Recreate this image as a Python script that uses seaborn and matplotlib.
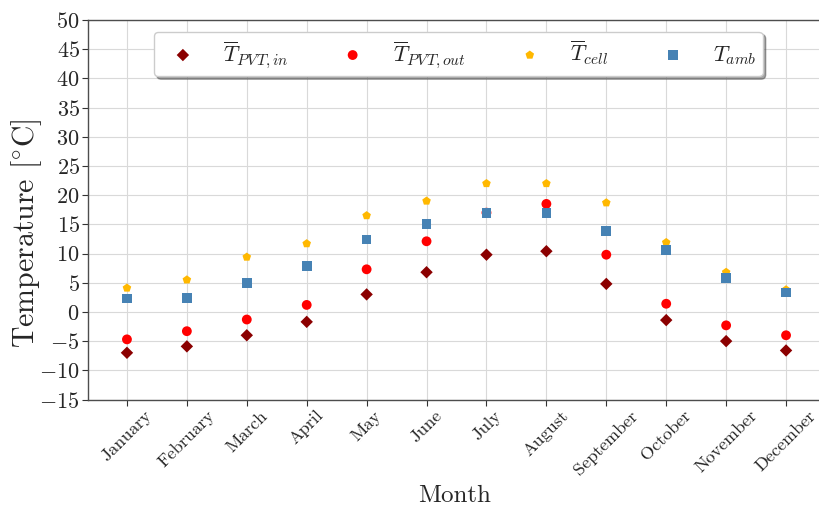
import matplotlib
matplotlib.use("Agg")
import matplotlib.pyplot as plt
import seaborn as sns
import pandas as pd

months = ["January", "February", "March", "April", "May", "June", "July",
          "August", "September", "October", "November", "December"]
t_pvt_in = [-7.0, -5.9, -4.0, -1.7, 3.0, 6.8, 9.8, 10.4, 4.8, -1.4, -5.0, -6.6]
t_pvt_out = [-4.7, -3.3, -1.3, 1.2, 7.3, 12.1, 17.0, 18.5, 9.8, 1.4, -2.3, -4.0]
t_cell = [4.1, 5.5, 9.4, 11.7, 16.5, 19.0, 22.0, 22.0, 18.7, 11.9, 6.8, 3.8]
t_amb = [2.3, 2.4, 5.0, 7.9, 12.4, 15.1, 16.9, 16.9, 13.9, 10.6, 5.8, 3.3]

y_ticks = list(range(-15, 55, 5))

sns.set_theme(style="whitegrid")
plt.rcParams.update({
    "font.family": ["cmr10"],
    "mathtext.fontset": "cm",
    "axes.formatter.use_mathtext": True,
    "axes.unicode_minus": True,
})

df = pd.DataFrame({"month": months, "in": t_pvt_in, "out": t_pvt_out,
                   "cell": t_cell, "amb": t_amb})

fig = plt.figure(figsize=(8.19, 5.11), dpi=100)
ax = fig.add_axes([88 / 819, 1 - 399.5 / 511, (825 - 88) / 819, (399.5 - 20) / 511])

series = [
    ("in", r"$\overline{T}_{PVT,in}$", "D", "#8b0000", 40),
    ("out", r"$\overline{T}_{PVT,out}$", "o", "#ff0000", 50),
    ("cell", r"$\overline{T}_{cell}$", "p", "#ffb800", 42),
    ("amb", r"$T_{amb}$", "s", "#4682b4", 48),
]
for col, lab, mk, colr, size in series:
    sns.scatterplot(data=df, x="month", y=col, marker=mk, color=colr, s=size,
                    edgecolor="none", label=lab, ax=ax, zorder=3)

ax.set_xlim(-0.65, 11.65)
ax.set_ylim(-15, 50)
ax.set_yticks(y_ticks)
ax.tick_params(axis="y", labelsize=16, length=4, width=0.8, color="0.2",
               left=True, pad=2)
ax.tick_params(axis="x", labelsize=13, length=4, width=0.8, color="0.2",
               bottom=True, pad=2)
for lbl in ax.get_xticklabels():
    lbl.set_rotation(45)

ax.grid(True, color="0.85", linewidth=0.8)
for side in ["left", "bottom", "top", "right"]:
    ax.spines[side].set_color("0.3")
    ax.spines[side].set_linewidth(1.0)

ax.set_xlabel("Month", fontsize=18)
ax.xaxis.set_label_coords((455 - 88) / 737, (399.5 - 485) / 379.5)
ax.set_ylabel(r"Temperature [$^{\circ}$C]", fontsize=21.5)
ax.yaxis.set_label_coords((44 - 88) / 737, (399.5 - 233) / 379.5)

ax.legend(loc="upper left", bbox_to_anchor=(154 / 819, 1 - 31.7 / 511),
          bbox_transform=fig.transFigure, ncol=4, fontsize=16,
          frameon=True, fancybox=True, shadow=True, framealpha=1,
          edgecolor="0.8", columnspacing=1.9, handletextpad=0.8,
          borderpad=0.3, borderaxespad=0)

fig.savefig("out.png", dpi=100)
